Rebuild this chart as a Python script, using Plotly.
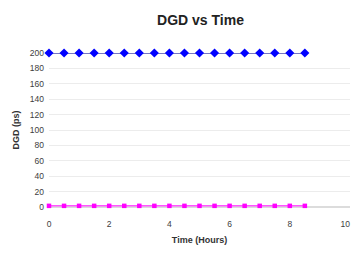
import plotly.graph_objects as go

time_hours = [0, 0.5, 1, 1.5, 2, 2.5, 3, 3.5, 4, 4.5, 5, 5.5, 6, 6.5, 7, 7.5, 8, 8.5]
dgd_max = [200] * 18
dgd_meas = [1.5] * 18
x_ticks = [0, 2, 4, 6, 8, 10]
x_tick_labels = ["0", "2", "4", "6", "8", "10"]
y_ticks = [0, 20, 40, 60, 80, 100, 120, 140, 160, 180, 200]

fig = go.Figure()
fig.add_trace(go.Scatter(x=time_hours, y=dgd_max, mode="lines+markers",
                         line=dict(color="#4848b0", width=1.5),
                         marker=dict(symbol="diamond", size=7, color="#0000ff"),
                         cliponaxis=False, showlegend=False))
fig.add_trace(go.Scatter(x=time_hours, y=dgd_meas, mode="lines+markers",
                         line=dict(color="#ff55ff", width=1.5),
                         marker=dict(symbol="square", size=4.5, color="#ff00ff"),
                         cliponaxis=False, showlegend=False))

# last label nudged left so it stays inside the frame
shown_labels = x_tick_labels[:-1] + [x_tick_labels[-1] + "\u00a0\u00a0\u00a0\u00a0"]

fig.update_layout(
    width=345, height=237,
    margin=dict(l=41, r=3, t=45, b=38, autoexpand=False),
    paper_bgcolor="white", plot_bgcolor="white",
    font=dict(family="Liberation Sans, Arial, sans-serif", size=8.5, color="#404040"),
    title=dict(text="<b>DGD vs Time</b>", x=0.558, xanchor="center", y=0.949, yanchor="middle",
               automargin=False,
               font=dict(size=14, color="#222222", family="Liberation Sans, Arial, sans-serif")),
    xaxis=dict(range=[0, 10], tickvals=x_ticks, ticktext=shown_labels, showgrid=False, zeroline=False,
               showline=False, ticks="", ticklabelstandoff=10, automargin=False,
               ticklabeloverflow="allow",
               title=dict(text="<b>Time (Hours)</b>", font=dict(size=9, color="#333333"), standoff=10)),
    yaxis=dict(range=[0, 200], tickvals=y_ticks, showgrid=True, gridcolor="#ececec",
               zeroline=True, zerolinecolor="#dcdcdc", showline=False, ticks="", automargin=False,
               ticklabelstandoff=4,
               title=dict(text="<b>DGD (ps)</b>", font=dict(size=9, color="#333333"), standoff=8)),
)

fig.write_html("out.html")
